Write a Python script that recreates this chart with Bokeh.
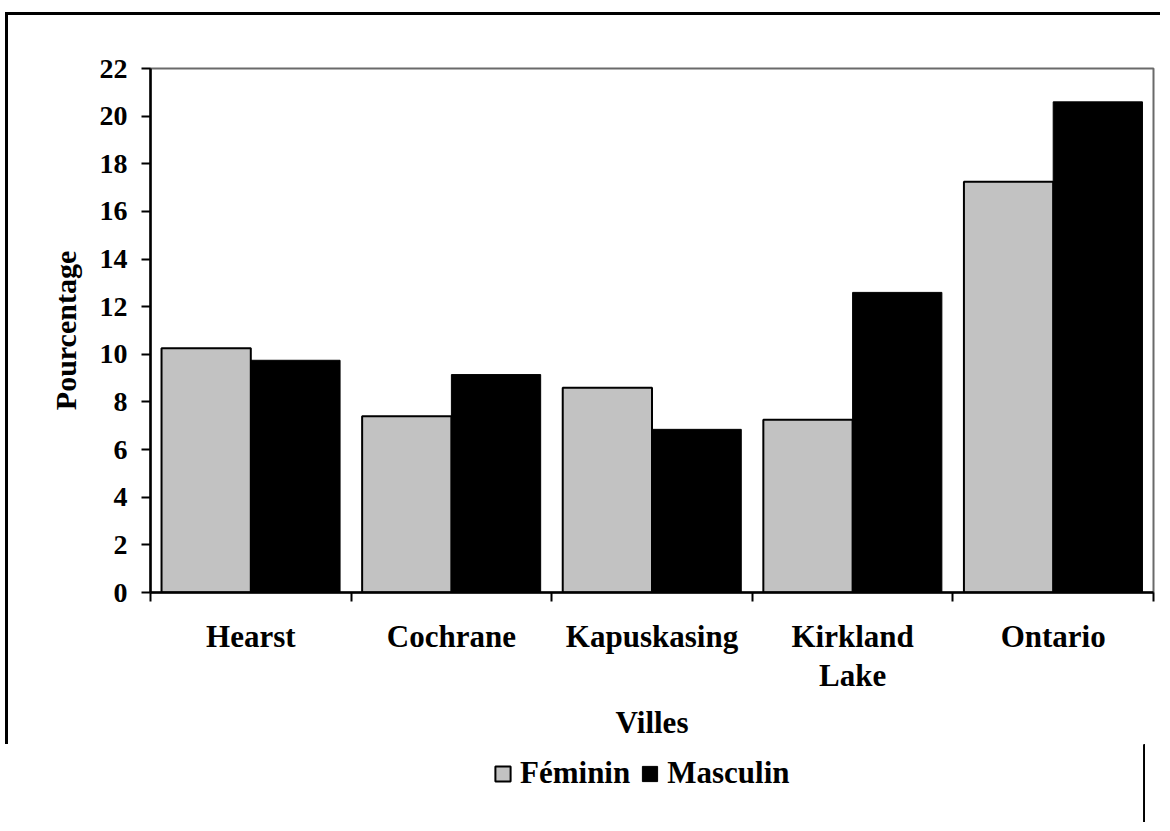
from bokeh.plotting import figure
from bokeh.models import (Range1d, LinearAxis, FixedTicker, Legend, LegendItem, ColumnDataSource)
from bokeh.layouts import column
from bokeh.transform import dodge
from bokeh.embed import file_html
from bokeh.resources import INLINE

villes = ["Hearst", "Cochrane", "Kapuskasing", "Kirkland\nLake", "Ontario"]
feminin = [10.25, 7.4, 8.6, 7.25, 17.25]
masculin = [9.75, 9.15, 6.85, 12.6, 20.6]
y_ticks = [0, 2, 4, 6, 8, 10, 12, 14, 16, 18, 20, 22]

FONT = "Liberation Serif"
GRAY = "#c2c2c2"

n = len(villes)
centres = [i + 0.5 for i in range(n)]
edge_ticks = list(range(n + 1))

src = ColumnDataSource(dict(pos=centres, ville=villes, f=feminin, m=masculin))

p = figure(x_range=Range1d(0, n), y_range=Range1d(0, 22),
           frame_width=1000, frame_height=521, output_backend="svg", toolbar_location=None,
           x_axis_location=None, min_border_left=142, min_border_right=10,
           min_border_top=53, min_border_bottom=155)
p.styles = {"border-top": "3px solid black", "border-left": "3px solid black",
            "margin-left": "5px", "margin-top": "12px"}
p.grid.visible = False
p.outline_line_color = "#6a6a6a"
p.outline_line_width = 2
p.background_fill_color = "white"
p.border_fill_color = "white"

p.vbar(x=dodge("pos", -0.2225), top="f", width=0.445, source=src,
       fill_color=GRAY, line_color="black", line_width=2)
p.vbar(x=dodge("pos", 0.2225), top="m", width=0.445, source=src,
       fill_color="black", line_color="black", line_width=1)

# y axis
ya = p.yaxis[0]
ya.ticker = FixedTicker(ticks=y_ticks)
ya.axis_line_width = 2.5
ya.axis_line_color = "black"
ya.major_tick_line_width = 2
ya.major_tick_out = 9
ya.major_tick_in = 0
ya.minor_tick_line_color = None
ya.major_label_text_font = FONT
ya.major_label_text_font_style = "bold"
ya.major_label_text_font_size = "28px"
ya.major_label_text_color = "black"
ya.major_label_standoff = 14
ya.axis_label = "Pourcentage"
ya.axis_label_text_font = FONT
ya.axis_label_text_font_style = "bold"
ya.axis_label_text_font_size = "30px"
ya.axis_label_text_color = "black"
ya.axis_label_standoff = 15

# boundary ticks axis
ea = LinearAxis(ticker=FixedTicker(ticks=edge_ticks))
ea.axis_line_width = 2.5
ea.axis_line_color = "black"
ea.major_tick_line_width = 2
ea.major_tick_out = 9
ea.major_tick_in = 0
ea.minor_tick_line_color = None
ea.major_label_text_font_size = "1px"
ea.major_label_text_alpha = 0
ea.major_label_standoff = 0
p.add_layout(ea, "below")

# category label axis
ca = LinearAxis(ticker=FixedTicker(ticks=centres),
                major_label_overrides={c: v for c, v in zip(centres, villes)})
ca.axis_line_color = None
ca.major_tick_line_color = None
ca.minor_tick_line_color = None
ca.major_label_text_font = FONT
ca.major_label_text_font_style = "bold"
ca.major_label_text_font_size = "31px"
ca.major_label_text_line_height = 1.12
ca.major_label_text_color = "black"
ca.major_label_standoff = 11
ca.axis_label = "Villes"
ca.axis_label_text_font = FONT
ca.axis_label_text_font_style = "bold"
ca.axis_label_text_font_size = "31px"
ca.axis_label_text_color = "black"
ca.axis_label_standoff = 9
p.add_layout(ca, "below")

# legend strip (its swatches come from the same series, drawn outside its view)
p2 = figure(x_range=Range1d(-20, -19), y_range=Range1d(0, 1), width=1154, height=78,
            output_backend="svg", toolbar_location=None, min_border=0,
            x_axis_location=None, y_axis_location=None)
p2.grid.visible = False
p2.outline_line_color = None
p2.background_fill_color = "white"
p2.border_fill_color = "white"
lf = p2.vbar(x=dodge("pos", -0.2225), top="f", width=0.445, source=src,
             fill_color=GRAY, line_color="black", line_width=2)
lm = p2.vbar(x=dodge("pos", 0.2225), top="m", width=0.445, source=src,
             fill_color="black", line_color="black", line_width=1)

legend = Legend(items=[LegendItem(label="Féminin", renderers=[lf]),
                       LegendItem(label="Masculin", renderers=[lm])],
                orientation="horizontal", location=(351, 31))
legend.label_text_font = FONT
legend.label_text_font_style = "bold"
legend.label_text_font_size = "31px"
legend.label_text_color = "black"
legend.glyph_width = 19
legend.glyph_height = 19
legend.label_standoff = 8
legend.spacing = 10
legend.border_line_color = None
legend.background_fill_alpha = 0
legend.margin = 0
legend.padding = 0
p2.add_layout(legend)

layout = column(p, p2, spacing=0)
open("out.html", "w").write(file_html(layout, INLINE))
